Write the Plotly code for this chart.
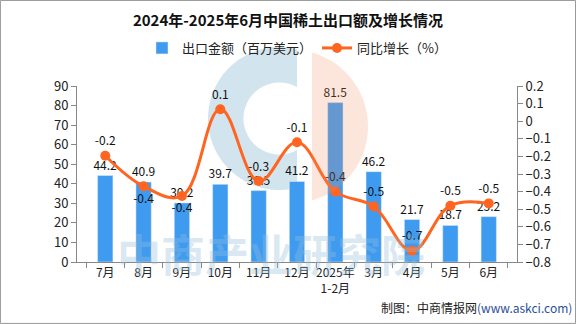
import numpy as np
import plotly.graph_objects as go

categories = ["7月", "8月", "9月", "10月", "11月", "12月", "2025年<br>1-2月", "3月", "4月", "5月", "6月"]
export_value = [44.2, 40.9, 30.2, 39.7, 36.5, 41.2, 81.5, 46.2, 21.7, 18.7, 23.2]
yoy_growth = [-0.196, -0.37, -0.425, 0.068, -0.34, -0.12, -0.40, -0.484, -0.736, -0.48, -0.467]
line_label_pos = ["top center", "bottom center", "bottom center", "top center", "top center",
                  "top center", "top center", "top center", "top center", "top center", "top center"]

FONT = "Noto Sans CJK SC"
BLUE = "#3E9BF0"
ORANGE = "#FF6520"
AXIS = "#888888"

W, H = 576, 324
ML, MR, MT, MB = 77, 59, 86, 62
PW, PH = W - ML - MR, H - MT - MB


def to_paper(px, py):
    return (px - ML) / PW, (H - MB - py) / PH


def path_from(points):
    pts = [to_paper(x, y) for x, y in points]
    return "M " + " L ".join(f"{x:.4f},{y:.4f}" for x, y in pts) + " Z"


def clipped_ring(cx, cy, r_out, r_in, xcut, keep_left=True):
    a = np.arccos(np.clip((xcut - cx) / r_out, -1, 1))
    if keep_left:
        t = np.linspace(-a, -(2 * np.pi - a), 120)
    else:
        t = np.linspace(-a, a, 120)
    pts = [(cx + r_out * np.cos(v), cy + r_out * np.sin(v)) for v in t]
    if r_in > 0:
        b = np.arccos(np.clip((xcut - cx) / r_in, -1, 1))
        ti = np.linspace(-(2 * np.pi - b), -b, 80)
        pts += [(cx + r_in * np.cos(v), cy + r_in * np.sin(v)) for v in ti]
    return path_from(pts)


fig = go.Figure()
fig.add_trace(go.Bar(
    x=categories, y=export_value, name="出口金额（百万美元）",
    marker_color=BLUE, width=0.4,
    text=[f"{v:.1f}" for v in export_value], textposition="outside", constraintext="none",
    textfont=dict(size=12, color="#111111", family=FONT), cliponaxis=False,
))
fig.add_trace(go.Scatter(
    x=categories, y=yoy_growth, name="同比增长（%）", yaxis="y2",
    mode="lines+markers+text", line=dict(color=ORANGE, width=3, shape="spline", smoothing=1.1),
    marker=dict(size=10, color=ORANGE),
    text=[f"{v:.1f}" for v in yoy_growth], textposition=line_label_pos,
    textfont=dict(size=12, color="#111111", family=FONT), cliponaxis=False,
))

# watermark logo (blue C + orange half disc)
fig.add_shape(type="path", xref="paper", yref="paper", layer="below",
              path=clipped_ring(279.5, 118.5, 71.5, 36, 297, keep_left=True),
              fillcolor="#D2E4EE", line=dict(width=0))
fig.add_shape(type="path", xref="paper", yref="paper", layer="above", opacity=0.22,
              path=clipped_ring(291, 126.5, 77, 0, 312, keep_left=False),
              fillcolor="rgb(240,140,95)", line=dict(width=0))

# watermark text
fig.add_annotation(text="<b>中商产业研究院</b>", x=0.44, y=0.05, xref="paper", yref="paper",
                   xanchor="center", yanchor="middle",
                   showarrow=False, font=dict(size=44, color="rgba(150,190,220,0.35)", family=FONT))

fig.update_layout(
    width=W, height=H,
    margin=dict(l=ML, r=MR, t=MT, b=MB),
    paper_bgcolor="white", plot_bgcolor="rgba(0,0,0,0)",
    font=dict(family=FONT, size=12, color="#222222"),
    title=dict(text="<b>2024年-2025年6月中国稀土出口额及增长情况</b>", x=0.5, xanchor="center",
               y=0.935, yanchor="middle", font=dict(size=15, color="#111111", family=FONT)),
    legend=dict(orientation="h", x=0.5, xanchor="center", y=1.216, yanchor="middle",
                font=dict(size=13, color="#222222"), bgcolor="rgba(0,0,0,0)"),
    xaxis=dict(showline=True, linecolor=AXIS, ticks="outside", tickcolor=AXIS, ticklen=5,
               tickson="boundaries", showgrid=False, tickangle=0,
               tickfont=dict(size=12, color="#222222")),
    yaxis=dict(range=[0, 90], dtick=10, showline=True, linecolor=AXIS, ticks="outside",
               tickcolor=AXIS, ticklen=5, showgrid=False, zeroline=False,
               tickfont=dict(size=13, color="#222222")),
    yaxis2=dict(range=[-0.8, 0.2], dtick=0.1, overlaying="y", side="right", showline=True,
                linecolor=AXIS, ticks="outside", tickcolor=AXIS, ticklen=5, showgrid=False,
                zeroline=False, tickfont=dict(size=13, color="#222222")),
    showlegend=True,
)
fig.add_annotation(text="制图：中商情报网<span style='color:#2a4f9a'>(www.askci.com)</span>",
                   x=1.13, y=-0.256, xref="paper", yref="paper", xanchor="right", yanchor="middle",
                   showarrow=False, font=dict(size=12, color="#222222", family=FONT))
fig.add_shape(type="rect", xref="paper", yref="paper", x0=-0.174, x1=1.133, y0=-0.349, y1=1.486,
              line=dict(color="#999999", width=1))
fig.write_html("out.html")
